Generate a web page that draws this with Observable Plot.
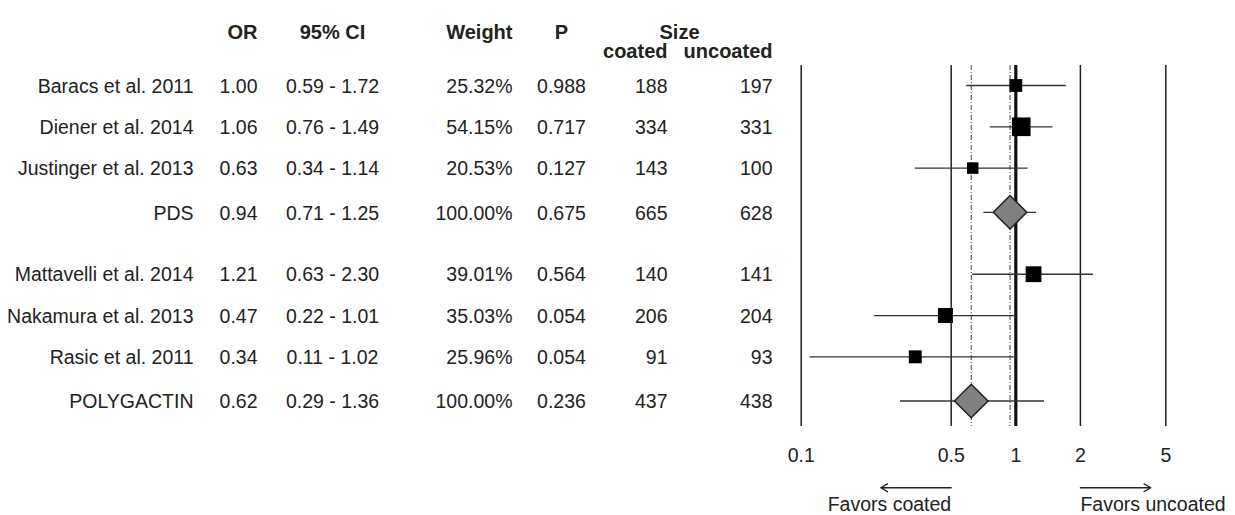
<!DOCTYPE html>
<html>
<head>
<meta charset="utf-8">
<script src="https://cdn.jsdelivr.net/npm/d3@7"></script>
<script src="https://cdn.jsdelivr.net/npm/@observablehq/plot@0.6"></script>
<style>
  html, body { margin: 0; padding: 0; background: white; }
</style>
</head>
<body>
<div id="chart"></div>
<script>
// ---- data ----
const studies = ["Baracs et al. 2011", "Diener et al. 2014", "Justinger et al. 2013", "PDS",
                 "Mattavelli et al. 2014", "Nakamura et al. 2013", "Rasic et al. 2011", "POLYGACTIN"];
const pooled = [false, false, false, true, false, false, false, true];
const oddsRatio = [1.00, 1.06, 0.63, 0.94, 1.21, 0.47, 0.34, 0.62];
const ciLow = [0.59, 0.76, 0.34, 0.71, 0.63, 0.22, 0.11, 0.29];
const ciHigh = [1.72, 1.49, 1.14, 1.25, 2.30, 1.01, 1.02, 1.36];
const weight = [25.32, 54.15, 20.53, 100.00, 39.01, 35.03, 25.96, 100.00];
const pValue = ["0.988", "0.717", "0.127", "0.675", "0.564", "0.054", "0.054", "0.236"];
const sizeCoated = [188, 334, 143, 665, 140, 206, 91, 437];
const sizeUncoated = [197, 331, 100, 628, 141, 204, 93, 438];
const xTicks = [0.1, 0.5, 1, 2, 5];
const favorLabels = ["Favors coated", "Favors uncoated"];

// ---- table built from arrays ----
const rows = studies.map((s, i) => ({
  study: s, pooled: pooled[i], or: oddsRatio[i], lo: ciLow[i], hi: ciHigh[i],
  weight: weight[i], p: pValue[i], nc: sizeCoated[i], nu: sizeUncoated[i]
}));
// row layout: pooled rows slightly separated, new group after a pooled row
let pos = 0;
rows.forEach((r, i) => {
  if (i > 0) pos += r.pooled ? 1.07 : (rows[i - 1].pooled ? 1.5 : 1);
  r.pos = pos;
});
const last = rows[rows.length - 1].pos;

const fmt2 = d3.format(".2f");
const fs = 19.5;
const ink = "#222";

const col = (text, dx, anchor) => Plot.text(rows, {
  y: "pos", text, frameAnchor: "left", dx, dy: 1, textAnchor: anchor,
  fontSize: fs, fill: ink
});

const headers = [
  {t: "OR", dx: 257, dy: -41, a: "end"},
  {t: "95% CI", dx: 332, dy: -41, a: "middle"},
  {t: "Weight", dx: 512, dy: -41, a: "end"},
  {t: "P", dx: 561, dy: -41, a: "middle"},
  {t: "Size", dx: 679, dy: -41, a: "middle"},
  {t: "coated", dx: 667, dy: -21.5, a: "end"},
  {t: "uncoated", dx: 772, dy: -21.5, a: "end"}
];

const diamond = {
  draw(context, size) {
    const r = Math.sqrt(size) * 0.62625;
    context.moveTo(0, -r);
    context.lineTo(r, 0);
    context.lineTo(0, r);
    context.lineTo(-r, 0);
    context.closePath();
  }
};

const refLines = xTicks.filter(d => d !== 1);
const arrowY = last + 2.1;
const favorY = last + 2.5;
const arrows = [
  {x1: refLines[1], x2: refLines[1] / 2.13},
  {x1: refLines[2], x2: refLines[2] * 2.13}
].map(d => ({...d, y: arrowY}));

const chart = Plot.plot({
  width: 1235,
  height: 515,
  marginTop: 65,
  marginBottom: 89,
  marginLeft: 0,
  marginRight: 0,
  style: {fontFamily: "'Liberation Sans', Arial, sans-serif", color: ink, background: "white"},
  x: {type: "log", domain: [0.1, 5], range: [800.7, 1165.3], axis: null},
  y: {type: "linear", domain: [-0.484, last + 0.617], range: [65, 426], axis: null},
  r: {type: "sqrt", domain: [0, 100], range: [0, 14.3]},
  marks: [
    // reference lines
    Plot.ruleX(refLines, {stroke: ink, strokeWidth: 1.5}),
    Plot.ruleX(rows.filter(d => d.pooled), {x: "or", stroke: "#444", strokeWidth: 1, strokeDasharray: "5,2,1,2"}),
    Plot.ruleX([1], {stroke: "#111", strokeWidth: 3.2}),
    // whiskers
    Plot.ruleY(rows, {y: "pos", x1: "lo", x2: "hi", stroke: "#333", strokeWidth: 1.3}),
    // study squares
    Plot.dot(rows.filter(d => !d.pooled), {x: "or", y: "pos", r: "weight", symbol: "square", fill: "#000", stroke: "none"}),
    // pooled diamonds
    Plot.dot(rows.filter(d => d.pooled), {x: "or", y: "pos", r: 15.1, symbol: diamond, fill: "#808080", stroke: ink, strokeWidth: 1.5}),
    // x axis
    Plot.axisX({ticks: xTicks, tickSize: 0, tickPadding: 22, fontSize: fs, tickFormat: d => String(d)}),
    // favors annotations
    Plot.arrow(arrows, {x1: "x1", x2: "x2", y1: "y", y2: "y", stroke: ink, strokeWidth: 1.3, headLength: 9}),
    Plot.text([favorLabels[0]], {x: refLines[1], y: favorY, text: d => d, textAnchor: "end", fontSize: fs, fill: ink}),
    Plot.text([favorLabels[1]], {x: refLines[2], y: favorY, text: d => d, textAnchor: "start", fontSize: fs, fill: ink}),
    // table columns
    col("study", 193, "end"),
    col(d => fmt2(d.or), 257, "end"),
    col(d => `${fmt2(d.lo)} - ${fmt2(d.hi)}`, 332, "middle"),
    col(d => `${fmt2(d.weight)}%`, 512, "end"),
    col("p", 561, "middle"),
    col("nc", 667, "end"),
    col("nu", 772, "end"),
    // headers
    ...headers.map(h => Plot.text([h], {
      text: "t", frameAnchor: "top-left", dx: h.dx, dy: h.dy, textAnchor: h.a,
      fontSize: 20, fontWeight: "bold", fill: ink
    }))
  ]
});
document.getElementById("chart").appendChild(chart);
</script>
</body>
</html>
